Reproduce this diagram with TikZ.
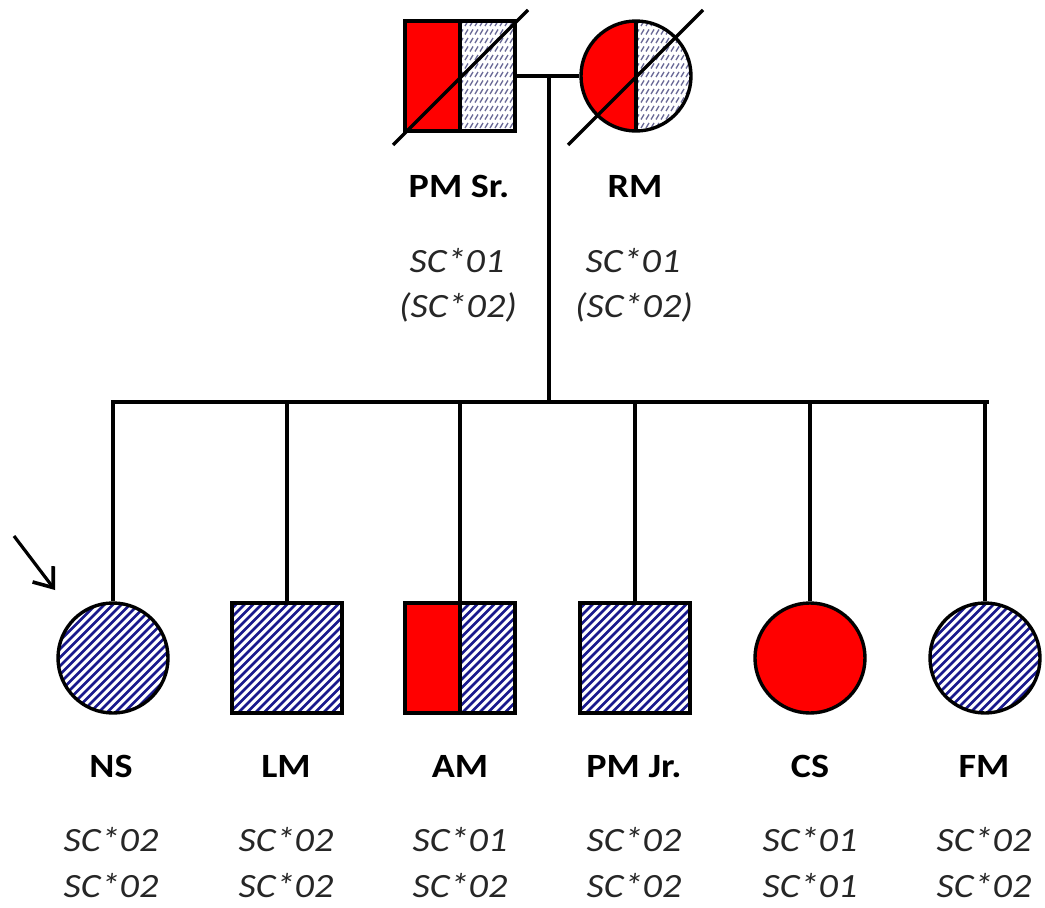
\documentclass[tikz,border=0pt]{standalone}
\usepackage{fontspec}
\setmainfont{Carlito}[FakeStretch=1.12]
\usetikzlibrary{calc,arrows.meta}
\definecolor{hatchnavy}{RGB}{25,25,140}
\definecolor{hatchgrey}{RGB}{105,105,150}
\definecolor{pedred}{RGB}{255,0,0}
\tikzset{
  pedline/.style={line width=3.4pt, black},
  indiv/.style={draw=black, line width=3.4pt, inner sep=0pt, minimum size=110pt},
  male/.style={indiv, rectangle},
  female/.style={indiv, circle},
  bluehatch/.style={path picture={
     \foreach \i in {-130,-121.5,...,130}
       \draw[hatchnavy, line width=2.6pt]
         ([xshift=\i pt-80pt, yshift=-80pt]path picture bounding box.center) -- ++(160pt,160pt);}},
  halfredblue/.style={path picture={
     \fill[pedred] (path picture bounding box.south west) rectangle (path picture bounding box.north);
     \begin{scope}
       \clip (path picture bounding box.south) rectangle (path picture bounding box.north east);
       \foreach \i in {-130,-121.5,...,130}
         \draw[hatchnavy, line width=2.6pt]
           ([xshift=\i pt-80pt, yshift=-80pt]path picture bounding box.center) -- ++(160pt,160pt);
     \end{scope}
     \draw[line width=3.4pt] (path picture bounding box.south) -- (path picture bounding box.north);}},
  halfredgrey/.style={path picture={
     \fill[pedred] (path picture bounding box.south west) rectangle (path picture bounding box.north);
     \begin{scope}
       \clip (path picture bounding box.south) rectangle (path picture bounding box.north east);
       \foreach \r in {-52,-43.5,...,56}
         \foreach \c in {0,5,...,60}
           \draw[hatchgrey, line width=1.3pt]
             ([xshift=\c pt, yshift=\r pt]path picture bounding box.center) -- ++(3pt,5pt);
     \end{scope}
     \draw[line width=3.4pt] (path picture bounding box.south) -- (path picture bounding box.north);}},
  allred/.style={fill=pedred},
  namelab/.style={anchor=base, font=\fontsize{34}{40}\selectfont\bfseries},
  genolab/.style={anchor=base, font=\fontsize{34}{40}\selectfont\itshape, text=black!85},
  strike/.style={line width=3.4pt, black}
}
\begin{document}
\begin{tikzpicture}[x=1pt, y=-1pt]
\useasboundingbox (0,0) rectangle (1045,908);
% parents
\node[male, halfredgrey] (PMSr) at (460,76) {};
\node[female, halfredgrey] (RM) at (636,76) {};
\draw[strike] ($(PMSr.center)+(-67,69)$) -- ($(PMSr.center)+(68,-66)$);
\draw[strike] ($(RM.center)+(-68,69)$) -- ($(RM.center)+(67,-66)$);
\coordinate (mar) at (549,77);
\coordinate (sib) at (549,402);
\coordinate (sibL) at (113,402);
\coordinate (sibR) at (987,402);
\draw[pedline] (PMSr.east) -- (RM.west);
\draw[pedline] (mar) -- (sib);
\draw[pedline, line cap=rect] (sibL) -- (sibR);
% children
\node[female, bluehatch] (NS) at (113,658) {};
\node[male, bluehatch] (LM) at (287,658) {};
\node[male, halfredblue] (AM) at (460,658) {};
\node[male, bluehatch] (PMJr) at (635,658) {};
\node[female, allred] (CS) at (810,658) {};
\node[female, bluehatch] (FM) at (985,658) {};
\foreach \n in {NS,LM,AM,PMJr,CS,FM}
  \draw[pedline] (\n.north) -- (\n.north |- sibL);
% proband arrow
\coordinate (arrS) at (14,536);
\coordinate (arrE) at (55,590);
\draw[line width=3.2pt, -{Straight Barb[length=17pt, width=26pt, line width=3.6pt]}] (arrS) -- (arrE);
% parent labels
\node[namelab] (lPMSr) at (459,197) {PM Sr.};
\node[namelab] (lRM) at (635,197) {RM};
\node[genolab] (gPMSr1) at (457,272) {SC*01};
\node[genolab] (gPMSr2) at (458,317) {(SC*02)};
\node[genolab] (gRM1) at (633,272) {SC*01};
\node[genolab] (gRM2) at (634,317) {(SC*02)};
% children labels
\foreach \n/\x/\t/\a/\b in {NS/111/NS/SC*02/SC*02, LM/286/LM/SC*02/SC*02, AM/460/AM/SC*01/SC*02,
    PMJr/634/PM Jr./SC*02/SC*02, CS/810/CS/SC*01/SC*01, FM/984/FM/SC*02/SC*02} {
  \node[namelab] (l\n) at (\x,777) {\t};
  \node[genolab] (g\n a) at (\x,851) {\a};
  \node[genolab] (g\n b) at (\x,897) {\b};
}
\end{tikzpicture}
\end{document}
